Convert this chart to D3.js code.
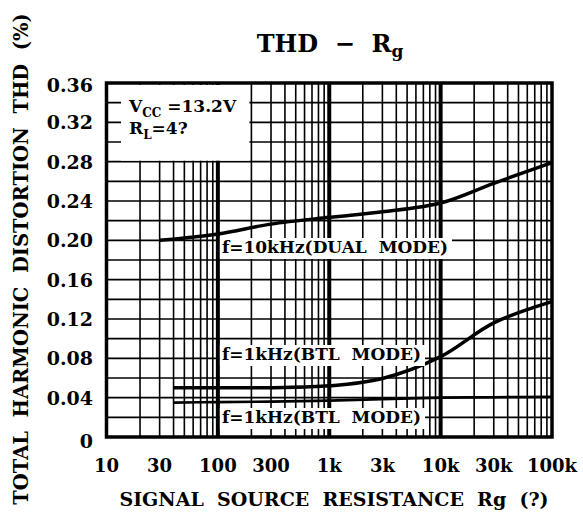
<!DOCTYPE html>
<html>
<head>
<meta charset="utf-8">
<script src="https://cdn.jsdelivr.net/npm/d3@7/dist/d3.min.js"></script>
<style>
  html, body { margin: 0; padding: 0; background: #fff; }
  svg text { font-family: "DejaVu Serif", serif; font-weight: bold; fill: #000; white-space: pre; }
</style>
</head>
<body>
<script>
// Axis ticks
let xTickValues = [10, 30, 100, 300, 1000, 3000, 10000, 30000, 100000];
let xTickLabels = ['10', '30', '100', '300', '1k', '3k', '10k', '30k', '100k'];
let yTickValues = [0, 0.04, 0.08, 0.12, 0.16, 0.20, 0.24, 0.28, 0.32, 0.36];
let yTickLabels = ['0', '0.04', '0.08', '0.12', '0.16', '0.20', '0.24', '0.28', '0.32', '0.36'];

// Curves (Rg in ohm, THD in %)
let dualRg  = [30, 100, 300, 1000, 3000, 10000, 30000, 100000];
let dualThd = [0.200, 0.2065, 0.2165, 0.2234, 0.229, 0.238, 0.258, 0.279];

let btlHiRg  = [40, 100, 300, 1000, 3000, 10000, 30000, 100000];
let btlHiThd = [0.050, 0.050, 0.0502, 0.052, 0.0595, 0.0817, 0.116, 0.1376];

let btlLoRg  = [40, 100, 300, 1000, 3000, 10000, 30000, 100000];
let btlLoThd = [0.035, 0.0355, 0.036, 0.037, 0.0385, 0.040, 0.0405, 0.041];

let W = 583, H = 522;
let svg = d3.select('body').append('svg')
            .attr('width', W)
            .attr('height', H);

let x = d3.scaleLog().domain([10, 100000]).range([106.5, 552]);
let y = d3.scaleLinear().domain([0, 0.36]).range([437, 83]);

// grid
let grid = svg.append('g');
grid.selectAll('line.h')
    .data(d3.range(0, 0.3601, 0.02))
    .enter().append('line')
    .attr('class', 'h')
    .attr('x1', x.range()[0]).attr('x2', x.range()[1])
    .attr('y1', d => y(d)).attr('y2', d => y(d))
    .attr('stroke', '#000').attr('stroke-width', 1.6);

let isMajor = d => Math.abs(Math.log10(d) - Math.round(Math.log10(d))) < 1e-9;
grid.selectAll('line.v')
    .data(x.ticks().filter(d => d > 10 && d < 100000))
    .enter().append('line')
    .attr('class', 'v')
    .attr('x1', d => x(d)).attr('x2', d => x(d))
    .attr('y1', y.range()[0]).attr('y2', y.range()[1])
    .attr('stroke', '#000')
    .attr('stroke-width', d => isMajor(d) ? 4 : 1.6);

// conditions box, top left (white over the grid)
svg.append('rect')
    .attr('x', 121).attr('y', y(0.36) + 2)
    .attr('width', x(200) - 2 - 121).attr('height', y(0.28) - y(0.36) - 3)
    .attr('fill', '#fff');

let cond = svg.append('g').style('font-size', '17px');
let t1 = cond.append('text').attr('x', 129).attr('y', 112);
t1.append('tspan').text('V');
t1.append('tspan').text('CC').style('font-size', '12px').attr('dy', 5);
t1.append('tspan').text(' =13.2V').attr('dy', -5);
let t2 = cond.append('text').attr('x', 129).attr('y', 134);
t2.append('tspan').text('R');
t2.append('tspan').text('L').style('font-size', '12px').attr('dy', 5);
t2.append('tspan').text('=4?').attr('dy', -5);

// curves
let line = d3.line()
    .x(d => x(d[0]))
    .y(d => y(d[1]))
    .curve(d3.curveCatmullRom.alpha(0.5));

let series = [
    { rg: dualRg,  thd: dualThd,  w: 3.5 },
    { rg: btlHiRg, thd: btlHiThd, w: 3.5 },
    { rg: btlLoRg, thd: btlLoThd, w: 2.6 }
];
series.forEach(s => {
    svg.append('path')
        .datum(d3.zip(s.rg, s.thd))
        .attr('d', line)
        .attr('fill', 'none')
        .attr('stroke', '#000')
        .attr('stroke-width', s.w);
});

// curve labels, white backed
let labels = [
    { text: 'f=10kHz(DUAL  MODE)', rg: 100, base: 253 },
    { text: 'f=1kHz(BTL  MODE)',   rg: 100, base: 360 },
    { text: 'f=1kHz(BTL  MODE)',   rg: 100, base: 423 }
];
labels.forEach(l => {
    let g = svg.append('g');
    let bg = g.append('rect').attr('fill', '#fff');
    let t = g.append('text')
        .attr('x', x(l.rg) + 4)
        .attr('y', l.base)
        .style('font-size', '17px')
        .text(l.text);
    let b = t.node().getBBox();
    bg.attr('x', b.x - 2).attr('y', b.y + 1)
      .attr('width', b.width + 6).attr('height', b.height + 1);
});

// frame
svg.append('rect')
    .attr('x', x.range()[0]).attr('y', y.range()[1])
    .attr('width', x.range()[1] - x.range()[0])
    .attr('height', y.range()[0] - y.range()[1])
    .attr('fill', 'none')
    .attr('stroke', '#000')
    .attr('stroke-width', 3.5);

// tick labels
svg.append('g').selectAll('text')
    .data(xTickValues)
    .enter().append('text')
    .attr('x', d => x(d))
    .attr('y', 472)
    .attr('text-anchor', 'middle')
    .style('font-size', '18px')
    .text((d, i) => xTickLabels[i]);

svg.append('g').selectAll('text')
    .data(yTickValues)
    .enter().append('text')
    .attr('x', 93)
    .attr('y', d => y(d) + (d === 0 ? 11 : d === 0.36 ? 9 : 7))
    .attr('text-anchor', 'end')
    .style('font-size', '19px')
    .text((d, i) => yTickLabels[i]);

// titles
let title = svg.append('text')
    .attr('x', 330).attr('y', 52)
    .attr('text-anchor', 'middle')
    .style('font-size', '24px');
title.append('tspan').text('THD  \u2212  R');
title.append('tspan').text('g').style('font-size', '17px').attr('dy', 5);

svg.append('text')
    .attr('x', 334).attr('y', 506)
    .attr('text-anchor', 'middle')
    .style('font-size', '19px')
    .text('SIGNAL  SOURCE  RESISTANCE  Rg  (?)');

svg.append('text')
    .attr('transform', 'translate(28,259) rotate(-90)')
    .attr('text-anchor', 'middle')
    .style('font-size', '19.5px')
    .text('TOTAL  HARMONIC  DISTORTION  THD  (%)');
</script>
</body>
</html>
